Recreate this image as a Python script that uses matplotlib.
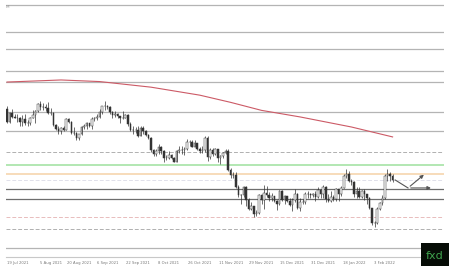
import numpy as np
import pandas as pd
import matplotlib
matplotlib.use("Agg")
import matplotlib.pyplot as plt

# EUR/USD daily bars, 13 Jul 2021 - 8 Feb 2022
dates = pd.bdate_range("2021-07-13", "2022-02-08")
first_open = 1.1860

close = [
    # Jul
    1.1775, 1.1835, 1.1810, 1.1805, 1.1800, 1.1780, 1.1795, 1.1770, 1.1770, 1.1800, 1.1820, 1.1845, 1.1890, 1.1870,
    # Aug
    1.1870, 1.1865, 1.1835, 1.1835, 1.1760, 1.1735, 1.1720, 1.1740, 1.1730, 1.1795, 1.1780, 1.1710, 1.1710, 1.1675,
    1.1700, 1.1745, 1.1755, 1.1770, 1.1750, 1.1795, 1.1800, 1.1810,
    # Sep
    1.1840, 1.1875, 1.1880, 1.1870, 1.1840, 1.1820, 1.1825, 1.1815, 1.1805, 1.1805, 1.1820, 1.1765, 1.1725, 1.1725,
    1.1725, 1.1690, 1.1740, 1.1720, 1.1695, 1.1680, 1.1600, 1.1580,
    # Oct
    1.1595, 1.1620, 1.1595, 1.1555, 1.1555, 1.1570, 1.1550, 1.1530, 1.1595, 1.1600, 1.1600, 1.1610, 1.1650, 1.1655,
    1.1620, 1.1645, 1.1610, 1.1595, 1.1600, 1.1680, 1.1560,
    # Nov
    1.1605, 1.1580, 1.1610, 1.1555, 1.1565, 1.1585, 1.1595, 1.1480, 1.1445, 1.1445, 1.1370, 1.1320, 1.1320, 1.1370,
    1.1290, 1.1235, 1.1250, 1.1200, 1.1210, 1.1320, 1.1290, 1.1335,
    # Dec
    1.1320, 1.1305, 1.1315, 1.1285, 1.1265, 1.1345, 1.1290, 1.1315, 1.1285, 1.1260, 1.1290, 1.1330, 1.1240, 1.1280,
    1.1280, 1.1330, 1.1325, 1.1320, 1.1330, 1.1310, 1.1350, 1.1325, 1.1370,
    # Jan
    1.1295, 1.1285, 1.1310, 1.1295, 1.1360, 1.1325, 1.1365, 1.1440, 1.1455, 1.1410, 1.1405, 1.1325, 1.1345, 1.1310,
    1.1345, 1.1325, 1.1305, 1.1240, 1.1145, 1.1145, 1.1235,
    # Feb
    1.1270, 1.1305, 1.1440, 1.1455, 1.1440, 1.1415,
]
high = [
    1.1880, 1.1840, 1.1860, 1.1830, 1.1825, 1.1810, 1.1820, 1.1830, 1.1790, 1.1810, 1.1850, 1.1850, 1.1895, 1.1910,
    1.1895, 1.1890, 1.1900, 1.1865, 1.1840, 1.1765, 1.1750, 1.1745, 1.1755, 1.1800, 1.1800, 1.1785, 1.1745, 1.1715,
    1.1705, 1.1750, 1.1765, 1.1775, 1.1770, 1.1810, 1.1810, 1.1830,
    1.1860, 1.1880, 1.1909, 1.1885, 1.1875, 1.1845, 1.1845, 1.1835, 1.1815, 1.1845, 1.1830, 1.1825, 1.1775, 1.1750,
    1.1745, 1.1750, 1.1750, 1.1750, 1.1725, 1.1700, 1.1685, 1.1610,
    1.1610, 1.1640, 1.1625, 1.1605, 1.1570, 1.1595, 1.1580, 1.1560, 1.1600, 1.1625, 1.1625, 1.1620, 1.1670, 1.1665,
    1.1665, 1.1665, 1.1645, 1.1620, 1.1625, 1.1690, 1.1692,
    1.1615, 1.1615, 1.1615, 1.1610, 1.1570, 1.1590, 1.1610, 1.1610, 1.1490, 1.1465, 1.1465, 1.1385, 1.1330, 1.1375,
    1.1375, 1.1305, 1.1275, 1.1250, 1.1230, 1.1330, 1.1325, 1.1385,
    1.1380, 1.1340, 1.1335, 1.1315, 1.1290, 1.1355, 1.1355, 1.1320, 1.1305, 1.1305, 1.1300, 1.1360, 1.1335, 1.1300,
    1.1295, 1.1340, 1.1345, 1.1335, 1.1335, 1.1345, 1.1370, 1.1360, 1.1385,
    1.1375, 1.1325, 1.1345, 1.1320, 1.1365, 1.1360, 1.1375, 1.1450, 1.1483, 1.1470, 1.1420, 1.1410, 1.1370, 1.1370,
    1.1350, 1.1360, 1.1330, 1.1310, 1.1240, 1.1160, 1.1245,
    1.1275, 1.1320, 1.1450, 1.1483, 1.1465, 1.1450,
]
low = [
    1.1770, 1.1772, 1.1800, 1.1800, 1.1775, 1.1755, 1.1752, 1.1760, 1.1755, 1.1760, 1.1800, 1.1770, 1.1840, 1.1855,
    1.1850, 1.1845, 1.1830, 1.1820, 1.1750, 1.1725, 1.1705, 1.1705, 1.1720, 1.1725, 1.1770, 1.1700, 1.1695, 1.1665,
    1.1664, 1.1695, 1.1735, 1.1735, 1.1745, 1.1735, 1.1785, 1.1790,
    1.1800, 1.1830, 1.1855, 1.1860, 1.1830, 1.1805, 1.1810, 1.1805, 1.1770, 1.1795, 1.1800, 1.1750, 1.1720, 1.1700,
    1.1710, 1.1685, 1.1690, 1.1705, 1.1690, 1.1670, 1.1590, 1.1565,
    1.1565, 1.1580, 1.1580, 1.1530, 1.1540, 1.1545, 1.1545, 1.1525, 1.1525, 1.1585, 1.1575, 1.1570, 1.1600, 1.1630,
    1.1620, 1.1620, 1.1605, 1.1585, 1.1585, 1.1590, 1.1535,
    1.1545, 1.1565, 1.1570, 1.1530, 1.1515, 1.1550, 1.1580, 1.1470, 1.1430, 1.1430, 1.1365, 1.1310, 1.1265, 1.1310,
    1.1250, 1.1225, 1.1225, 1.1186, 1.1190, 1.1205, 1.1265, 1.1235,
    1.1310, 1.1285, 1.1285, 1.1275, 1.1230, 1.1260, 1.1285, 1.1265, 1.1280, 1.1255, 1.1220, 1.1280, 1.1235, 1.1220,
    1.1265, 1.1265, 1.1305, 1.1305, 1.1310, 1.1285, 1.1300, 1.1300, 1.1305,
    1.1280, 1.1275, 1.1275, 1.1285, 1.1285, 1.1285, 1.1315, 1.1365, 1.1425, 1.1400, 1.1385, 1.1310, 1.1305, 1.1305,
    1.1300, 1.1290, 1.1265, 1.1235, 1.1135, 1.1121, 1.1140,
    1.1225, 1.1260, 1.1295, 1.1410, 1.1410, 1.1400,
]

# 200-day moving average (red), sampled
sma_dates = ["2021-07-13", "2021-08-11", "2021-09-01", "2021-09-29", "2021-10-26",
             "2021-11-11", "2021-11-29", "2021-12-20", "2022-01-17", "2022-02-08"]
sma_values = [1.2027, 1.2040, 1.2030, 1.1995, 1.1945, 1.1900, 1.1850, 1.1809, 1.1746, 1.1684]

# horizontal levels
solid_levels = [1.2510, 1.2338, 1.2232, 1.2098, 1.2029, 1.1840, 1.1723, 1.0988]
dark_levels = [1.1360, 1.1296]
dashed_levels = [1.1590, 1.1110]
pink_level = 1.1182
faint_level = 1.1415
green_level = 1.1507
orange_level = 1.1450

# projected path drawn after the last bar (bars ahead, price)
path_x = [151, 156, 163]
path_y = [1.1415, 1.1365, 1.1459]
flat_x = [156, 166]
flat_y = [1.1365, 1.1365]

tick_dates = ["2021-07-19", "2021-08-05", "2021-08-20", "2021-09-06", "2021-09-22", "2021-10-08",
              "2021-10-26", "2021-11-11", "2021-11-29", "2021-12-15", "2021-12-31", "2022-01-18",
              "2022-02-03"]

opens = [first_open] + close[:-1]
idx = np.arange(len(dates))

fig = plt.figure(figsize=(4.49, 2.73), dpi=100)
ax = fig.add_axes([6 / 449, 16 / 273, 438 / 449, 255 / 273])

for lv in solid_levels:
    ax.axhline(lv, color="#b4b4b4", lw=0.9, zorder=1)
for lv in dark_levels:
    ax.axhline(lv, color="#6e6e6e", lw=0.9, zorder=1)
for lv in dashed_levels:
    ax.axhline(lv, color="#b0b0b0", lw=0.7, ls=(0, (4, 2)), zorder=1)
ax.axhline(pink_level, color="#e8bcbc", lw=0.7, ls=(0, (4, 2)), zorder=1)
ax.axhline(faint_level, color="#e0e0ea", lw=0.7, ls=(0, (4, 2)), zorder=1)
ax.axhline(green_level, color="#a6e3a6", lw=1.2, zorder=1)
ax.axhline(orange_level, color="#f6d6ae", lw=1.2, zorder=1)

sma_idx = [dates.get_loc(pd.Timestamp(d)) for d in sma_dates]
ax.plot(sma_idx, sma_values, color="#cc5a66", lw=0.8, zorder=2)

# candles
ax.vlines(idx, low, high, color="#333333", lw=0.5, zorder=3)
o = np.array(opens)
c = np.array(close)
up = c >= o
ax.bar(idx[up], (c - o)[up], bottom=o[up], width=0.6, color="white",
       edgecolor="#333333", linewidth=0.35, zorder=4)
ax.bar(idx[~up], (c - o)[~up], bottom=o[~up], width=0.6, color="#333333",
       edgecolor="#333333", linewidth=0.35, zorder=4)

# projected path
ax.plot(path_x[:2], path_y[:2], color="#555555", lw=0.8, zorder=5)
ax.annotate("", xy=(path_x[2], path_y[2]), xytext=(path_x[1], path_y[1]),
            arrowprops=dict(arrowstyle="-|>", color="#555555", lw=0.8, mutation_scale=5), zorder=5)
ax.annotate("", xy=(flat_x[1], flat_y[1]), xytext=(flat_x[0], flat_y[0]),
            arrowprops=dict(arrowstyle="-|>", color="#555555", lw=0.8, mutation_scale=5), zorder=5)

ax.set_xlim(-0.4, 170)
ax.set_ylim(1.09335, 1.25273)
tick_idx = [dates.get_loc(pd.Timestamp(d)) for d in tick_dates]
ax.set_xticks(tick_idx)
ax.set_xticklabels([pd.Timestamp(d).strftime("%-d %b %Y") for d in tick_dates],
                   fontsize=2.7, color="#777777")
ax.tick_params(axis="x", length=0, pad=3)
ax.set_yticks([])
for s in ["top", "left", "right"]:
    ax.spines[s].set_visible(False)
ax.spines["bottom"].set_color("#c8c8c8")
ax.spines["bottom"].set_linewidth(0.8)

fig.text(6 / 449, 1 - 7 / 273, "M", fontsize=3, color="#999999", va="center")

# logo
logo = fig.add_axes([421 / 449, 7 / 273, 28 / 449, 23 / 273])
logo.set_facecolor("#060c06")
logo.set_xticks([])
logo.set_yticks([])
for s in logo.spines.values():
    s.set_visible(False)
logo.text(0.5, 0.45, "fxd", color="#3fa34d", fontsize=8, ha="center", va="center",
          transform=logo.transAxes)

fig.savefig("out.png", dpi=100, facecolor="white")
